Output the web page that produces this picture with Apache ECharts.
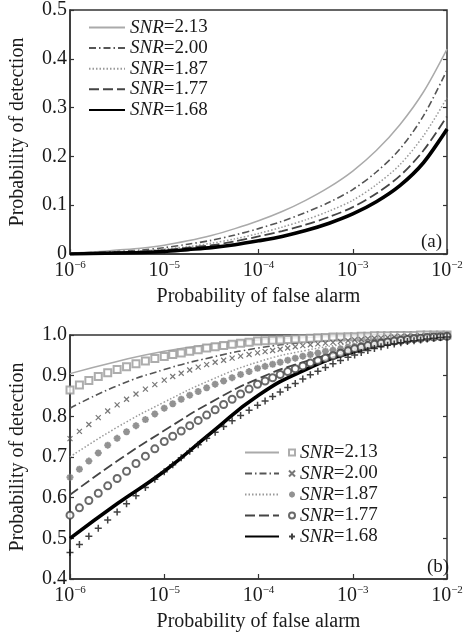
<!DOCTYPE html>
<html>
<head>
<meta charset="utf-8">
<script src="https://cdn.jsdelivr.net/npm/echarts@6/dist/echarts.min.js"></script>
<style>
html, body { margin: 0; padding: 0; background: #fff; }
#chart { width: 472px; height: 634px; }
</style>
</head>
<body>
<div id="chart"></div>
<script>
const snrLabels = ['2.13', '2.00', '1.87', '1.77', '1.68'];

// (a) log10 of false-alarm probability and detection probability per SNR
const logPfaTop = [-6, -5.75, -5.5, -5.25, -5, -4.75, -4.5, -4.25, -4, -3.75, -3.5, -3.25, -3, -2.75, -2.5, -2.25, -2];
const pdA213 = [0.002, 0.004, 0.008, 0.012, 0.018, 0.027, 0.038, 0.052, 0.068, 0.087, 0.110, 0.137, 0.170, 0.212, 0.265, 0.332, 0.420];
const pdA200 = [0.001, 0.003, 0.005, 0.008, 0.013, 0.020, 0.028, 0.039, 0.052, 0.067, 0.085, 0.106, 0.132, 0.168, 0.215, 0.283, 0.377];
const pdA187 = [0.0005, 0.002, 0.004, 0.006, 0.010, 0.015, 0.022, 0.031, 0.042, 0.055, 0.070, 0.088, 0.110, 0.142, 0.183, 0.242, 0.320];
const pdA177 = [0, 0.001, 0.003, 0.005, 0.008, 0.013, 0.018, 0.026, 0.036, 0.047, 0.060, 0.076, 0.096, 0.124, 0.160, 0.212, 0.282];
const pdA168 = [0, 0.001, 0.002, 0.003, 0.005, 0.009, 0.013, 0.019, 0.027, 0.036, 0.048, 0.063, 0.082, 0.107, 0.140, 0.187, 0.256];

// (b) theory lines
const logPfaLine = [-6, -5.5, -5, -4.5, -4, -3.5, -3, -2.5, -2];
const pdB213 = [0.905, 0.935, 0.960, 0.977, 0.988, 0.994, 0.997, 0.999, 1.0];
const pdB200 = [0.820, 0.875, 0.915, 0.945, 0.968, 0.982, 0.991, 0.997, 0.999];
const pdB187 = [0.700, 0.773, 0.835, 0.890, 0.934, 0.962, 0.980, 0.993, 0.999];
const pdB177 = [0.607, 0.690, 0.765, 0.835, 0.893, 0.935, 0.965, 0.986, 0.997];
const pdB168 = [0.500, 0.585, 0.665, 0.760, 0.852, 0.915, 0.958, 0.985, 0.997];

// (b) simulated points
const logPfaMark = [-6.0, -5.9, -5.8, -5.7, -5.6, -5.5, -5.4, -5.3, -5.2, -5.1, -5.0,
  -4.91, -4.82, -4.73, -4.64, -4.55, -4.46, -4.37, -4.28, -4.19, -4.10, -4.01,
  -3.93, -3.85, -3.77, -3.69, -3.61, -3.53, -3.45, -3.37, -3.29, -3.21, -3.13, -3.05,
  -2.98, -2.91, -2.84, -2.77, -2.70, -2.63, -2.56, -2.49, -2.42, -2.35, -2.28, -2.21, -2.14, -2.07, -2.00];
const simB213 = [0.865, 0.877, 0.888, 0.898, 0.907, 0.915, 0.922, 0.929, 0.936, 0.942, 0.947,
  0.952, 0.956, 0.960, 0.964, 0.968, 0.971, 0.974, 0.977, 0.980, 0.982, 0.985,
  0.986, 0.987, 0.988, 0.989, 0.990, 0.991, 0.992, 0.993, 0.994, 0.995, 0.995, 0.996,
  0.996, 0.997, 0.997, 0.998, 0.998, 0.998, 0.999, 0.999, 0.999, 0.999, 1.0, 1.0, 1.0, 1.0, 1.0];
const simB200 = [0.745, 0.763, 0.780, 0.797, 0.813, 0.828, 0.842, 0.855, 0.867, 0.878, 0.889,
  0.898, 0.906, 0.914, 0.921, 0.927, 0.933, 0.938, 0.943, 0.948, 0.952, 0.956,
  0.959, 0.962, 0.965, 0.968, 0.971, 0.974, 0.976, 0.978, 0.980, 0.982, 0.984, 0.986,
  0.988, 0.989, 0.991, 0.992, 0.993, 0.994, 0.995, 0.996, 0.997, 0.997, 0.998, 0.998, 0.999, 0.999, 0.999];
const simB187 = [0.650, 0.670, 0.690, 0.710, 0.729, 0.746, 0.762, 0.777, 0.792, 0.806, 0.820,
  0.831, 0.842, 0.852, 0.861, 0.870, 0.879, 0.887, 0.895, 0.903, 0.910, 0.918,
  0.923, 0.928, 0.933, 0.938, 0.943, 0.948, 0.952, 0.956, 0.960, 0.963, 0.966, 0.970,
  0.972, 0.975, 0.978, 0.980, 0.983, 0.985, 0.987, 0.989, 0.991, 0.993, 0.994, 0.995, 0.996, 0.997, 0.998];
const simB177 = [0.557, 0.575, 0.593, 0.611, 0.629, 0.647, 0.665, 0.684, 0.702, 0.720, 0.738,
  0.751, 0.764, 0.777, 0.790, 0.803, 0.816, 0.829, 0.842, 0.855, 0.867, 0.879,
  0.887, 0.895, 0.903, 0.910, 0.917, 0.924, 0.931, 0.937, 0.943, 0.949, 0.955, 0.961,
  0.966, 0.970, 0.974, 0.977, 0.980, 0.983, 0.985, 0.987, 0.989, 0.991, 0.992, 0.994, 0.995, 0.996, 0.997];
const simB168 = [0.465, 0.485, 0.505, 0.525, 0.545, 0.565, 0.585, 0.605, 0.625, 0.645, 0.664,
  0.681, 0.698, 0.714, 0.730, 0.746, 0.761, 0.775, 0.789, 0.802, 0.815, 0.827,
  0.838, 0.849, 0.860, 0.871, 0.881, 0.892, 0.902, 0.911, 0.920, 0.929, 0.937, 0.945,
  0.951, 0.957, 0.962, 0.967, 0.971, 0.975, 0.978, 0.981, 0.984, 0.986, 0.988, 0.990, 0.992, 0.994, 0.995];

const F = '"Liberation Serif", "Times New Roman", serif';
const ink = '#1a1a1a';

const toPts = (xs, ys) => xs.map((e, i) => [Math.pow(10, e), ys[i]]);

const lineStyles = [
  { color: '#aaaaaa', width: 1.5, type: 'solid' },
  { color: '#555555', width: 1.6, type: [7, 3, 1.5, 3] },
  { color: '#999999', width: 1.5, type: [1.5, 2] },
  { color: '#444444', width: 1.8, type: [10, 4] },
  { color: '#000000', width: 3.6, type: 'solid' }
];
const marks = [
  { symbol: 'emptyRect', size: 7, color: '#999999', bw: 1.2 },
  { symbol: 'path://M0,0L10,10M10,0L0,10', size: 5, color: '#555555', bw: 1.2 },
  { symbol: 'path://M5,0L5,10M0,5L10,5M1.5,1.5L8.5,8.5M8.5,1.5L1.5,8.5', size: 7, color: '#777777', bw: 2 },
  { symbol: 'emptyCircle', size: 7, color: '#444444', bw: 1.2 },
  { symbol: 'path://M5,0L5,10M0,5L10,5', size: 7, color: '#111111', bw: 1.5 }
];

const topData = [pdA213, pdA200, pdA187, pdA177, pdA168];
const lineData = [pdB213, pdB200, pdB187, pdB177, pdB168];
const simData = [simB213, simB200, simB187, simB177, simB168];

const richSNR = {
  i: { fontFamily: F, fontStyle: 'italic', fontSize: 19, color: ink },
  n: { fontFamily: F, fontSize: 19, color: ink }
};
const snrText = (k) => '{i|SNR}{n|=' + snrLabels[k] + '}';

const xLabel = {
  margin: 6,
  formatter: (v) => '{b|10}{s|\u2212' + Math.round(-Math.log10(v)) + '}',
  rich: {
    b: { fontFamily: F, fontSize: 20, color: ink },
    s: { fontFamily: F, fontSize: 11, color: ink, padding: [0, 0, 11, 0] }
  }
};

function xAxisFor(gi) {
  return {
    type: 'log', logBase: 10, gridIndex: gi, min: 1e-6, max: 1e-2,
    name: 'Probability of false alarm', nameLocation: 'middle', nameGap: 33,
    nameTextStyle: { fontFamily: F, fontSize: 20, color: ink },
    axisLine: { lineStyle: { color: '#333', width: 1.5 } },
    axisTick: { inside: true, length: 5, lineStyle: { color: '#333', width: 1.2 } },
    minorTick: { show: false },
    splitLine: { show: false },
    axisLabel: xLabel
  };
}
function yAxisFor(gi, min, max, fmt) {
  return {
    type: 'value', gridIndex: gi, min: min, max: max, interval: 0.1,
    name: 'Probability of detection', nameLocation: 'middle', nameGap: 42,
    nameTextStyle: { fontFamily: F, fontSize: 20, color: ink },
    axisLine: { lineStyle: { color: '#333', width: 1.5 } },
    axisTick: { inside: true, length: 4, lineStyle: { color: '#333', width: 1.2 } },
    splitLine: { show: false },
    axisLabel: { margin: 3, fontFamily: F, fontSize: 20, color: ink, formatter: fmt }
  };
}
function yRightFor(gi, min, max) {
  return {
    type: 'value', gridIndex: gi, position: 'right', min: min, max: max, interval: 0.1,
    axisLine: { show: false },
    axisTick: { inside: true, length: 4, lineStyle: { color: '#333', width: 1.2 } },
    axisLabel: { show: false }, splitLine: { show: false }
  };
}

const series = [];
snrLabels.forEach((s, k) => {
  series.push({
    name: 'a' + s, type: 'line', xAxisIndex: 0, yAxisIndex: 0,
    data: toPts(logPfaTop, topData[k]), showSymbol: false, symbol: 'none',
    smooth: 0.3,
    lineStyle: lineStyles[k], itemStyle: { color: lineStyles[k].color },
    z: k === 4 ? 4 : 3
  });
});
snrLabels.forEach((s, k) => {
  series.push({
    name: 'b' + s, type: 'line', xAxisIndex: 1, yAxisIndex: 2,
    data: toPts(logPfaLine, lineData[k]), showSymbol: false, symbol: 'none',
    smooth: 0.5,
    lineStyle: lineStyles[k], itemStyle: { color: lineStyles[k].color },
    z: 3
  });
});
snrLabels.forEach((s, k) => {
  series.push({
    name: 'm' + s, type: 'scatter', xAxisIndex: 1, yAxisIndex: 2,
    data: toPts(logPfaMark, simData[k]),
    symbol: marks[k].symbol, symbolSize: marks[k].size,
    itemStyle: { color: marks[k].color, borderColor: marks[k].color, borderWidth: marks[k].bw },
    z: 4
  });
});

const legendBase = {
  orient: 'vertical', padding: 0, itemHeight: 14, selectedMode: false,
  textStyle: { fontFamily: F, fontSize: 19, color: ink, rich: richSNR }
};

const chart = echarts.init(document.getElementById('chart'), null, { renderer: 'canvas' });
chart.setOption({
  backgroundColor: '#fff',
  animation: false,
  grid: [
    { left: 67, top: 10, width: 380, height: 244, show: true, borderColor: '#333', borderWidth: 1.5 },
    { left: 67, top: 335, width: 380, height: 244, show: true, borderColor: '#333', borderWidth: 1.5 }
  ],
  xAxis: [xAxisFor(0), xAxisFor(1)],
  yAxis: [
    yAxisFor(0, 0, 0.5, (v) => v === 0 ? '0' : v.toFixed(1)),
    yRightFor(0, 0, 0.5),
    yAxisFor(1, 0.4, 1.0, (v) => v.toFixed(1)),
    yRightFor(1, 0.4, 1.0)
  ],
  legend: [
    Object.assign({}, legendBase, {
      left: 88, top: 18, itemWidth: 36, itemGap: 1.6,
      itemStyle: { opacity: 0 },
      data: snrLabels.map((s) => 'a' + s),
      formatter: (name) => snrText(snrLabels.indexOf(name.slice(1)))
    }),
    Object.assign({}, legendBase, {
      left: 244, top: 443, itemWidth: 34, itemGap: 2,
      itemStyle: { opacity: 0 },
      data: snrLabels.map((s) => 'b' + s),
      formatter: () => ' '
    }),
    Object.assign({}, legendBase, {
      left: 288, top: 443, itemWidth: 6, itemHeight: 6, itemGap: 2,
      data: snrLabels.map((s) => 'm' + s),
      formatter: (name) => snrText(snrLabels.indexOf(name.slice(1)))
    })
  ],
  graphic: [
    { type: 'text', left: 421, top: 233, style: { text: '(a)', fontFamily: F, fontSize: 19, fill: ink } },
    { type: 'text', left: 427, top: 558, style: { text: '(b)', fontFamily: F, fontSize: 19, fill: ink } }
  ],
  series: series
});
</script>
</body>
</html>
